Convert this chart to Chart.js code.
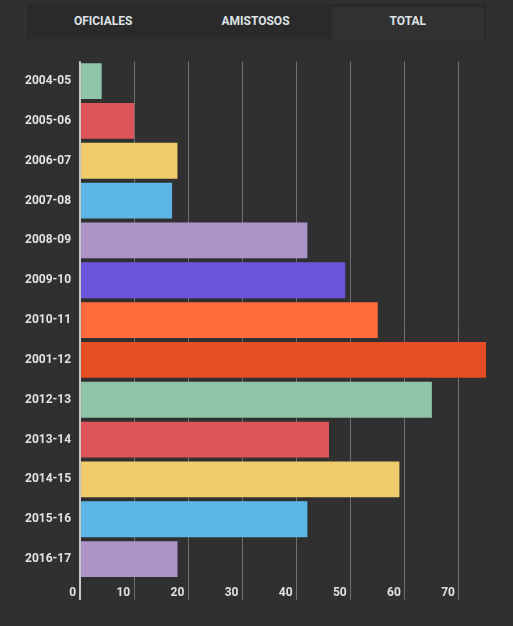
<!DOCTYPE html>
<html>
<head>
<meta charset="utf-8">
<script src="https://cdn.jsdelivr.net/npm/chart.js"></script>
<style>
  html, body { margin: 0; padding: 0; background: #303030; width: 513px; height: 626px; overflow: hidden; font-family: Roboto, sans-serif; }
  .tabs { position: absolute; left: 27px; top: 4px; width: 459px; height: 35px; background: #2a2a2a; display: flex; }
  .tab { flex: 1; color: #dfe2e6; font-weight: bold; font-size: 12px; text-align: center; line-height: 35px; }
  .tab.active { background: #313131; margin: 3px 2px 0 0; line-height: 29px; border-radius: 3px 3px 0 0; }
  .wrap { position: absolute; left: 0; top: 45px; width: 513px; height: 581px; }
</style>
</head>
<body>
<div class="tabs">
  <div class="tab">OFICIALES</div>
  <div class="tab">AMISTOSOS</div>
  <div class="tab active">TOTAL</div>
</div>
<div class="wrap"><canvas id="chart"></canvas></div>
<script>
const seasons = ['2004-05', '2005-06', '2006-07', '2007-08', '2008-09', '2009-10', '2010-11',
  '2001-12', '2012-13', '2013-14', '2014-15', '2015-16', '2016-17'];
const totals = [4, 10, 18, 17, 42, 49, 55, 75, 65, 46, 59, 42, 18];
const barColors = ['#8fc4a9', '#de5558', '#f0cc6c', '#5db7e6', '#ae93c9', '#6c55db', '#ff6b3a',
  '#e54d23', '#8fc4a9', '#de5558', '#f0cc6c', '#5db7e6', '#ae93c9'];

const font = { family: 'Roboto', size: 12, weight: 'bold' };

new Chart(document.getElementById('chart'), {
  type: 'bar',
  data: {
    labels: seasons,
    datasets: [{
      data: totals,
      backgroundColor: barColors,
      barPercentage: 0.9,
      categoryPercentage: 1.0,
    }],
  },
  options: {
    indexAxis: 'y',
    responsive: true,
    maintainAspectRatio: false,
    animation: false,
    layout: { padding: { left: 16, right: 27, top: 14, bottom: 0 } },
    plugins: {
      legend: { display: false },
      tooltip: { enabled: false },
    },
    scales: {
      x: {
        min: 0,
        max: 75,
        border: { display: false },
        grid: {
          color: c => c.tick && c.tick.value === 0 ? '#c8c8c8' : '#6e6e6e',
          lineWidth: c => c.tick && c.tick.value === 0 ? 2 : 1,
          tickColor: c => c.tick && c.tick.value === 0 ? '#c8c8c8' : '#6e6e6e',
          tickLength: 21,
        },
        ticks: {
          stepSize: 10,
          includeBounds: false,
          align: 'end',
          labelOffset: -4,
          padding: -14,
          color: '#dfe2e6',
          font,
        },
        afterFit: s => { s.height = 47; },
      },
      y: {
        border: { display: false },
        grid: { display: false, drawTicks: false },
        ticks: { padding: 9, color: '#dfe2e6', font },
      },
    },
  },
});
</script>
</body>
</html>
